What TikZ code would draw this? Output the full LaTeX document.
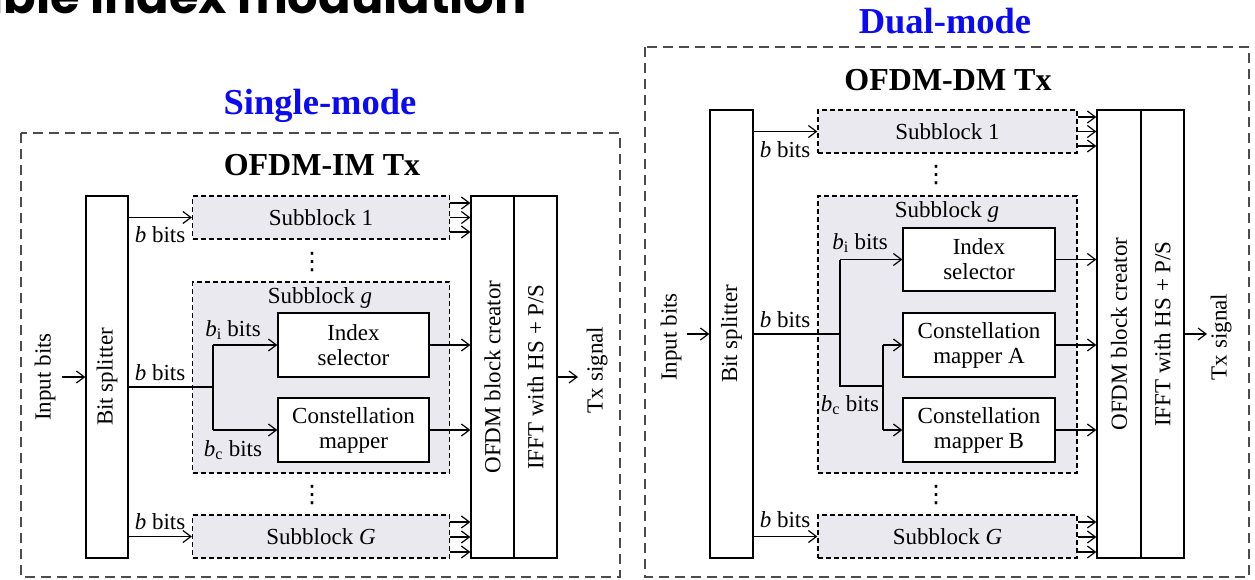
\documentclass[tikz,border=0pt]{standalone}
\usepackage{fontspec}
\setmainfont{Liberation Serif}
\newfontfamily\titlefont{Poppins}
\newfontfamily\dotfont{DejaVu Sans}
\usetikzlibrary{arrows.meta}
\definecolor{sbfill}{RGB}{234,233,240}
\definecolor{modeblue}{RGB}{10,10,245}
\newcommand\bodyfs{\fontsize{23}{25}\selectfont}
\begin{document}
\begin{tikzpicture}[x=1pt,y=-1pt,
  box/.style={draw, line width=1.3pt, fill=white, inner sep=0pt, align=center, font=\bodyfs},
  sub/.style={draw, dash pattern=on 5pt off 3pt, line width=1.2pt, fill=sbfill, inner sep=0pt, font=\bodyfs},
  outer/.style={draw=black!70, dash pattern=on 10pt off 6pt, line width=1.5pt},
  arr/.style={-{Straight Barb[length=8pt,width=12pt]}, line width=1.2pt},
  wire/.style={line width=1.2pt},
  lbl/.style={font=\bodyfs, inner sep=0pt},
  rot/.style={font=\bodyfs, inner sep=0pt, rotate=90},
  modet/.style={font=\bfseries\fontsize{36.5}{40}\selectfont, text=modeblue, anchor=base, inner sep=0pt},
  txt/.style={font=\bfseries\fontsize{32}{36}\selectfont, anchor=base, inner sep=0pt},
  dots/.style={font=\dotfont\fontsize{24}{24}\selectfont, inner sep=0pt}
]
\useasboundingbox (0,0) rectangle (1255,579);
% cut-off heading
\node[anchor=base east, inner sep=0pt, font=\titlefont\bfseries\fontsize{48}{48}\selectfont] (ttl) at (527,13) {ible index modulation};

%================ LEFT: single-mode =================
\draw[outer] (21,133) rectangle (620,577);
\node[modet] (smode) at (320,114) {Single-mode};
\node[txt] (imtx) at (322,175) {OFDM-IM Tx};

\node[box, minimum width=42pt, minimum height=362pt] (bsL) at (107,377) {};
\node[rot] (bsLt) at (bsL) {Bit splitter};
\node[box, minimum width=43pt, minimum height=362pt] (ofL) at (492.5,377) {};
\node[rot] (ofLt) at (ofL) {OFDM block creator};
\node[box, minimum width=43pt, minimum height=362pt] (ifL) at (535.5,377) {};
\node[rot] (ifLt) at (ifL) {IFFT with HS + P/S};
\node[rot] (inL) at (45,377) {Input bits};
\node[rot] (txL) at (597,370) {Tx signal};
\coordinate (inLa) at (62,377);
\coordinate (txLa) at (578,377);
\draw[arr] (inLa) -- (bsL.west);
\draw[arr] (ifL.east) -- (txLa);

\node[sub, minimum width=257pt, minimum height=43pt] (sb1L) at (321,217.5) {Subblock 1};
\node[sub, minimum width=257pt, minimum height=191pt] (sbgL) at (321,377.5) {};
\node[lbl] (sbgLt) at (320,298) {Subblock \textit{g}};
\node[box, minimum width=151pt, minimum height=64pt] (idxL) at (353.5,345) {Index\\selector};
\node[box, minimum width=151pt, minimum height=64pt] (cmL) at (353.5,430) {Constellation\\mapper};
\node[sub, minimum width=257pt, minimum height=43pt] (sbGL) at (321,536.5) {Subblock \textit{G}};
\node[dots] (d1L) at (312,262) {⋮};
\node[dots] (d2L) at (312,495) {⋮};

\draw[arr] (bsL.east |- sb1L) -- (sb1L.west);
\foreach \yy in {203,217.5,232} \draw[arr] (sb1L.east |- 0,\yy) -- (ofL.west |- 0,\yy);
\draw[arr] (bsL.east |- sbGL) -- (sbGL.west);
\foreach \yy in {522,537,552} \draw[arr] (sbGL.east |- 0,\yy) -- (ofL.west |- 0,\yy);

\coordinate (jL) at (213,387);
\draw[wire] (bsL.east |- jL) -- (jL);
\draw[wire] (jL |- idxL) -- (jL |- cmL);
\draw[arr] (jL |- idxL) -- (idxL.west);
\draw[arr] (jL |- cmL) -- (cmL.west);
\draw[arr] (idxL.east) -- (ofL.west |- idxL);
\draw[arr] (cmL.east) -- (ofL.west |- cmL);

\node[lbl] (bb1L) at (160,235) {\textit{b} bits};
\node[lbl] (bbgL) at (160,373) {\textit{b} bits};
\node[lbl] (biL) at (233,330) {\textit{b}\textsubscript{i} bits};
\node[lbl] (bcL) at (233,450) {\textit{b}\textsubscript{c} bits};
\node[lbl] (bbGL) at (160,522) {\textit{b} bits};

%================ RIGHT: dual-mode =================
\draw[outer] (645,47) rectangle (1249,577);
\node[modet] (dmode) at (945,33) {Dual-mode};
\node[txt] (dmtx) at (948,90) {OFDM-DM Tx};

\node[box, minimum width=43pt, minimum height=448pt] (bsR) at (731.5,334) {};
\node[rot] (bsRt) at (bsR) {Bit splitter};
\node[box, minimum width=44pt, minimum height=448pt] (ofR) at (1119,334) {};
\node[rot] (ofRt) at (ofR) {OFDM block creator};
\node[box, minimum width=43pt, minimum height=448pt] (ifR) at (1162.5,334) {};
\node[rot] (ifRt) at (ifR) {IFFT with HS + P/S};
\node[rot] (inR) at (671,337) {Input bits};
\node[rot] (txR) at (1221,337) {Tx signal};
\coordinate (inRa) at (687,334);
\coordinate (txRa) at (1207,334);
\draw[arr] (inRa) -- (bsR.west);
\draw[arr] (ifR.east) -- (txRa);

\node[sub, minimum width=259pt, minimum height=43pt] (sb1R) at (947.5,131.5) {Subblock 1};
\node[sub, minimum width=259pt, minimum height=277pt] (sbgR) at (947.5,334.5) {};
\node[lbl] (sbgRt) at (947,212) {Subblock \textit{g}};
\node[box, minimum width=152pt, minimum height=63pt] (idxR) at (979,259.5) {Index\\selector};
\node[box, minimum width=152pt, minimum height=64pt] (cmAR) at (979,345) {Constellation\\mapper A};
\node[box, minimum width=152pt, minimum height=64pt] (cmBR) at (979,430) {Constellation\\mapper B};
\node[sub, minimum width=259pt, minimum height=43pt] (sbGR) at (947.5,536.5) {Subblock \textit{G}};
\node[dots] (d1R) at (936,175) {⋮};
\node[dots] (d2R) at (936,495) {⋮};

\draw[arr] (bsR.east |- sb1R) -- (sb1R.west);
\foreach \yy in {117,131.5,146} \draw[arr] (sb1R.east |- 0,\yy) -- (ofR.west |- 0,\yy);
\draw[arr] (bsR.east |- sbGR) -- (sbGR.west);
\foreach \yy in {522,537,552} \draw[arr] (sbGR.east |- 0,\yy) -- (ofR.west |- 0,\yy);

\coordinate (jR1) at (840,334);
\coordinate (jR2) at (883,386);
\draw[wire] (bsR.east |- jR1) -- (jR1);
\draw[wire] (jR1 |- idxR) -- (jR1 |- jR2) -- (jR2);
\draw[wire] (jR2 |- cmAR) -- (jR2 |- cmBR);
\draw[arr] (jR1 |- idxR) -- (idxR.west);
\draw[arr] (jR2 |- cmAR) -- (cmAR.west);
\draw[arr] (jR2 |- cmBR) -- (cmBR.west);
\draw[arr] (idxR.east) -- (ofR.west |- idxR);
\draw[arr] (cmAR.east) -- (ofR.west |- cmAR);
\draw[arr] (cmBR.east) -- (ofR.west |- cmBR);

\node[lbl] (bb1R) at (785,150) {\textit{b} bits};
\node[lbl] (bbgR) at (785,320) {\textit{b} bits};
\node[lbl] (biR) at (860,243) {\textit{b}\textsubscript{i} bits};
\node[lbl] (bcR) at (850,405) {\textit{b}\textsubscript{c} bits};
\node[lbl] (bbGR) at (785,520) {\textit{b} bits};
\end{tikzpicture}
\end{document}
